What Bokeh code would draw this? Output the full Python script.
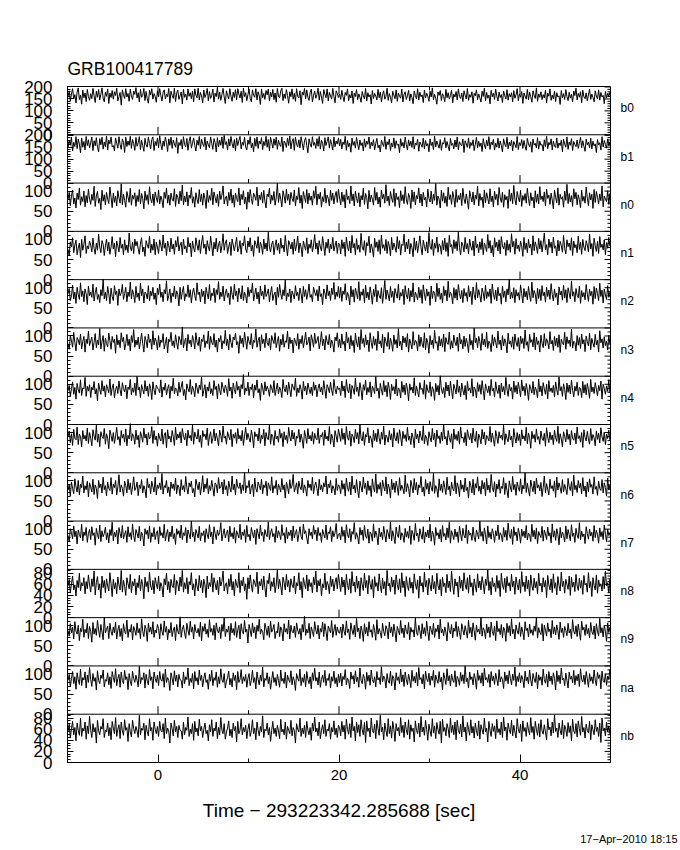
import numpy as np
from bokeh.plotting import figure
from bokeh.models import Range1d, LinearAxis, FixedTicker, Span, Title
from bokeh.embed import file_html
from bokeh.resources import INLINE

title_text = "GRB100417789"
xlabel_text = "Time \u2212 293223342.285688 [sec]"
date_text = "17\u2212Apr\u22122010 18:15"

names = ["b0", "b1", "n0", "n1", "n2", "n3", "n4", "n5", "n6", "n7", "n8", "n9", "na", "nb"]
ymax = [202, 202, 120, 120, 120, 120, 120, 120, 120, 120, 87, 120, 120, 87]
major_ticks = {202: [0, 50, 100, 150, 200], 120: [0, 50, 100], 87: [0, 20, 40, 60, 80]}
minor_step = {202: 10, 120: 10, 87: 5}
x_major = [0, 20, 40]
x_minor = [10, 30]
t_start, t_end = -10.0, 50.0

b0 = [162, 184, 141, 171, 193, 150, 168, 133, 179, 196, 147, 166, 128, 187, 155, 175, 139, 190, 160, 144,
      172, 151, 194, 163, 135, 182, 157, 189, 146, 170, 196, 153, 138, 178, 161, 192, 131, 174, 156, 185,
      149, 180, 164, 195, 142, 159, 177, 124, 188, 167, 152, 193, 158, 173, 140, 191, 163, 148, 183, 169,
      197, 154, 176, 137, 190, 157, 165, 194, 143, 181, 151, 132, 186, 166, 193, 149, 172, 160, 136, 184,
      158, 193, 164, 141, 178, 188, 150, 170, 159, 194, 134, 182, 165, 152, 195, 139, 174, 187, 148, 163,
      179, 129, 190, 157, 171, 145, 192, 161, 176, 151, 183, 138, 192, 166, 155, 195, 146, 177, 163, 133,
      187, 156, 170, 194, 142, 181, 152, 165, 191, 137, 174, 160, 198, 149, 179, 144, 168, 194, 158, 131,
      184, 164, 150, 193, 161, 140, 178, 156, 189, 147, 193, 170, 154, 182, 135, 195, 160, 176, 143, 168,
      192, 151, 138, 188, 165, 157, 193, 146, 180, 163, 127, 192, 155, 173, 148, 185, 167, 191, 141, 178,
      158, 190, 147, 175, 136, 194, 162, 155, 183, 195, 143, 171, 152, 189, 164, 132, 180, 159, 192, 149,
      173, 140, 193, 161, 154, 184, 126, 178, 166, 194, 150, 188, 157, 144, 176, 191, 137, 165, 183, 153,
      168, 195, 145, 181, 158, 131, 189, 170, 155, 192, 142, 177, 162, 149, 194, 160, 134, 184, 172, 156,
      170, 148, 186, 159, 139, 177, 165, 192, 143, 168, 154, 183, 131, 174, 160, 189, 147, 171, 157, 136,
      181, 163, 150, 194, 141, 176, 158, 168, 129, 185, 152, 173, 162, 146, 190, 155, 179, 138, 167, 184,
      149, 160, 195, 144, 172, 157, 133, 182, 166, 151, 188, 140, 175, 161, 153, 191, 137, 169, 180, 148,
      163, 186, 142, 171, 156, 130, 183, 164, 150, 193, 145, 178, 159, 167, 135, 187, 154, 174, 162, 140,
      182, 158, 196, 147, 169, 153, 128, 179, 165, 185, 143, 172, 160, 138, 190, 155, 176, 149, 164, 187,
      134, 170, 158, 181, 146, 192, 161, 152, 175, 139, 184, 166, 150, 194, 144, 168, 157, 180, 132, 173,
      163, 188, 147, 171, 155, 137, 182, 160, 195, 142, 177, 153, 166, 129, 186, 159, 174, 148, 191, 162,
      141, 179, 156, 168, 135, 183, 164, 150, 189, 145, 172, 158, 176, 138, 185, 153, 167, 193, 143, 170,
      157, 181, 131, 175, 162, 149, 190, 146, 178, 159, 136, 184, 165, 152, 196, 140, 171, 157, 180, 147,
      168, 154, 187, 133, 174, 161, 192, 144, 166, 150, 182, 139, 176, 158, 163, 127, 185, 155, 172, 148,
      189, 160, 143, 178, 153, 169, 137, 183, 164, 195, 146, 173, 157, 180, 134, 186, 159, 151, 175, 142,
      167, 191, 148, 170, 156, 138, 184, 162, 150, 188, 145, 177, 158, 165, 130, 181, 154, 173, 161, 179]

b1 = [148, 179, 158, 192, 134, 170, 153, 194, 144, 184, 163, 126, 189, 150, 174, 139, 195, 157, 181, 147,
      168, 193, 136, 177, 156, 190, 149, 131, 186, 160, 192, 142, 172, 152, 197, 138, 180, 164, 193, 151,
      157, 135, 189, 167, 146, 194, 161, 141, 185, 171, 128, 192, 153, 176, 158, 196, 145, 182, 165, 137,
      191, 154, 169, 194, 140, 179, 157, 133, 187, 160, 150, 193, 166, 143, 182, 193, 136, 174, 157, 189,
      148, 198, 162, 139, 176, 154, 192, 170, 132, 185, 158, 192, 145, 180, 164, 150, 190, 124, 170, 157,
      182, 142, 194, 161, 151, 187, 137, 174, 194, 146, 167, 189, 157, 134, 179, 158, 195, 143, 184, 164,
      153, 192, 139, 176, 160, 148, 193, 166, 141, 186, 169, 130, 190, 151, 179, 158, 193, 145, 199, 161,
      173, 138, 185, 155, 195, 165, 147, 182, 135, 189, 157, 177, 195, 143, 170, 158, 192, 150, 139, 180,
      162, 194, 148, 167, 131, 187, 154, 193, 145, 176, 163, 190, 140, 174, 157, 196, 150, 182, 135, 191,
      170, 146, 185, 158, 192, 141, 179, 161, 153, 193, 132, 176, 167, 149, 189, 157, 197, 143, 173, 186,
      137, 192, 161, 152, 181, 147, 194, 166, 139, 177, 190, 157, 127, 185, 164, 150, 194, 158, 170, 145,
      186, 154, 195, 142, 179, 167, 134, 190, 157, 174, 193, 146, 182, 162, 138, 193, 152, 176, 163, 189,
      155, 183, 143, 172, 161, 196, 137, 178, 152, 167, 129, 188, 158, 174, 146, 191, 163, 140, 180, 157,
      169, 134, 185, 150, 176, 162, 193, 144, 171, 155, 182, 139, 166, 187, 148, 159, 130, 179, 164, 153,
      195, 141, 173, 160, 184, 136, 168, 151, 189, 145, 177, 158, 163, 127, 186, 154, 170, 147, 192, 161,
      138, 181, 156, 175, 149, 194, 142, 167, 159, 183, 133, 172, 162, 150, 188, 144, 178, 155, 165, 131,
      185, 157, 171, 140, 196, 152, 176, 160, 146, 182, 137, 169, 163, 190, 148, 174, 154, 135, 187, 158,
      166, 143, 180, 151, 193, 139, 173, 161, 156, 184, 128, 177, 164, 149, 189, 145, 170, 157, 181, 136,
      162, 191, 147, 175, 153, 168, 132, 186, 159, 144, 179, 155, 194, 141, 172, 160, 183, 138, 167, 150,
      188, 146, 176, 158, 130, 185, 163, 152, 192, 143, 171, 156, 180, 135, 174, 161, 148, 195, 140, 169,
      157, 182, 145, 178, 154, 137, 187, 164, 151, 173, 129, 184, 159, 166, 147, 190, 142, 175, 158, 162,
      134, 181, 153, 196, 144, 170, 160, 185, 139, 176, 155, 149, 189, 146, 168, 157, 179, 131, 183, 163,
      150, 193, 141, 172, 158, 186, 136, 174, 161, 152, 180, 145, 167, 191, 148, 177, 154, 133, 184, 160,
      171, 147, 188, 143, 175, 156, 164, 128, 182, 159, 169, 138, 194, 151, 178, 162, 146, 185, 155, 173]

n0 = [78, 97, 64, 88, 103, 68, 83, 58, 95, 79, 108, 65, 86, 74, 100, 61, 89, 71, 105, 80,
      67, 92, 77, 112, 62, 88, 99, 70, 82, 54, 102, 75, 91, 66, 97, 80, 69, 110, 85, 59,
      95, 72, 88, 63, 101, 83, 70, 118, 66, 92, 77, 60, 99, 85, 72, 107, 65, 90, 80, 96,
      62, 89, 74, 104, 68, 94, 82, 56, 100, 77, 91, 67, 111, 80, 71, 93, 64, 98, 84, 72,
      103, 68, 88, 78, 59, 97, 82, 108, 70, 90, 65, 95, 80, 75, 106, 62, 92, 85, 68, 100,
      76, 115, 66, 88, 73, 98, 63, 90, 82, 109, 70, 86, 60, 96, 80, 69, 104, 74, 93, 65,
      95, 82, 57, 102, 72, 89, 77, 107, 66, 98, 84, 71, 92, 62, 100, 79, 90, 113, 68, 83,
      88, 63, 97, 77, 105, 70, 90, 60, 95, 82, 74, 108, 65, 92, 79, 101, 68, 85, 55, 98,
      72, 104, 82, 67, 95, 88, 77, 110, 63, 90, 79, 97, 70, 102, 75, 58, 93, 86, 107, 68,
      90, 77, 99, 65, 83, 120, 72, 95, 80, 61, 101, 88, 70, 105, 77, 93, 66, 97, 82, 74,
      103, 63, 88, 79, 109, 70, 90, 57, 99, 85, 72, 104, 68, 95, 77, 88, 65, 101, 82, 112,
      66, 93, 80, 97, 60, 86, 74, 107, 70, 90, 82, 63, 102, 77, 95, 68, 88, 99, 72, 105,
      83, 66, 98, 74, 91, 58, 104, 79, 88, 69, 113, 76, 93, 63, 100, 82, 71, 96, 61, 89,
      78, 107, 67, 94, 84, 56, 102, 73, 90, 80, 65, 109, 77, 97, 68, 85, 60, 103, 81, 92,
      70, 116, 75, 88, 64, 99, 83, 72, 106, 62, 95, 79, 86, 59, 101, 76, 91, 69, 111, 80,
      67, 94, 84, 57, 103, 74, 98, 66, 89, 81, 108, 71, 93, 63, 97, 78, 85, 61, 105, 82,
      73, 100, 68, 92, 77, 119, 65, 88, 80, 58, 102, 75, 96, 70, 87, 62, 110, 79, 91, 67,
      99, 84, 60, 104, 72, 89, 78, 95, 64, 107, 81, 69, 93, 76, 55, 101, 86, 73, 98, 66,
      90, 80, 112, 63, 94, 77, 85, 59, 103, 71, 96, 82, 68, 106, 74, 88, 61, 100, 79, 92,
      65, 109, 83, 72, 97, 60, 91, 78, 87, 57, 104, 75, 95, 69, 114, 80, 66, 99, 84, 73,
      102, 62, 89, 77, 94, 70, 107, 81, 64, 96, 76, 85, 58, 101, 72, 93, 68, 111, 79, 88,
      74, 98, 63, 105, 82, 90, 67, 95, 78, 56, 103, 84, 71, 108, 65, 92, 80, 86, 60, 100,
      77, 117, 69, 94, 73, 89, 62, 106, 81, 97, 66, 91, 79, 59, 102, 75, 87, 70, 110, 83,
      64, 96, 78, 92, 57, 104, 72, 99, 85, 68, 93, 76, 113, 61, 88, 80, 74, 101, 67, 95]

n1 = [75, 60, 94, 81, 104, 67, 86, 98, 62, 78, 91, 55, 100, 73, 88, 109, 65, 84, 76, 96,
      86, 69, 103, 78, 63, 91, 73, 113, 81, 67, 97, 88, 60, 84, 101, 71, 93, 63, 81, 107,
      76, 91, 57, 96, 84, 69, 105, 78, 88, 62, 99, 73, 86, 67, 116, 81, 71, 93, 65, 101,
      84, 95, 76, 63, 91, 104, 69, 81, 58, 97, 86, 78, 108, 67, 88, 73, 101, 62, 93, 81,
      65, 99, 86, 71, 111, 78, 91, 60, 96, 84, 69, 103, 76, 88, 63, 97, 81, 107, 71, 86,
      93, 62, 101, 76, 84, 67, 105, 81, 91, 57, 96, 78, 69, 104, 86, 73, 99, 65, 91, 110,
      78, 88, 63, 97, 81, 71, 108, 84, 59, 93, 76, 103, 69, 86, 96, 67, 84, 114, 73, 91,
      99, 65, 81, 93, 60, 101, 86, 71, 88, 105, 69, 78, 97, 63, 91, 84, 109, 76, 67, 96,
      81, 104, 71, 86, 58, 97, 88, 78, 107, 67, 93, 84, 63, 101, 76, 91, 71, 118, 81, 69,
      88, 96, 62, 84, 99, 73, 91, 65, 103, 78, 86, 69, 110, 81, 59, 97, 88, 76, 93, 63,
      101, 71, 86, 108, 67, 91, 81, 57, 96, 84, 73, 104, 65, 88, 78, 99, 69, 86, 112, 76,
      91, 63, 97, 81, 71, 107, 84, 60, 93, 78, 101, 67, 88, 76, 105, 71, 84, 96, 65, 91,
      88, 64, 99, 77, 93, 58, 106, 82, 71, 96, 66, 110, 79, 90, 62, 102, 75, 86, 68, 115,
      81, 73, 97, 60, 92, 84, 108, 67, 89, 76, 56, 103, 80, 94, 70, 99, 63, 111, 78, 87,
      72, 100, 65, 95, 83, 59, 105, 74, 91, 81, 68, 107, 77, 97, 61, 88, 85, 113, 69, 93,
      76, 101, 64, 90, 80, 57, 104, 73, 96, 67, 86, 109, 79, 62, 98, 83, 71, 94, 66, 117,
      82, 75, 100, 60, 91, 78, 106, 68, 89, 84, 63, 97, 74, 103, 70, 92, 58, 110, 81, 87,
      65, 99, 77, 95, 72, 119, 80, 61, 93, 86, 69, 105, 76, 90, 64, 101, 83, 73, 96, 59,
      108, 79, 88, 67, 94, 75, 102, 62, 91, 82, 70, 112, 78, 97, 66, 85, 57, 104, 80, 93,
      71, 99, 64, 107, 84, 76, 92, 60, 98, 73, 89, 68, 114, 81, 95, 63, 102, 77, 86, 70,
      96, 83, 58, 105, 75, 91, 67, 100, 79, 88, 61, 109, 72, 94, 82, 65, 103, 76, 97, 69,
      90, 116, 74, 87, 62, 101, 80, 93, 66, 106, 78, 84, 59, 98, 71, 95, 85, 68, 110, 77,
      64, 99, 82, 91, 73, 104, 60, 96, 79, 87, 67, 108, 75, 93, 63, 100, 81, 72, 97, 86,
      69, 113, 76, 90, 58, 103, 84, 70, 95, 65, 107, 80, 88, 74, 99, 62, 92, 78, 105, 83]

n2 = [85, 98, 68, 80, 106, 72, 89, 61, 101, 83, 71, 112, 78, 92, 65, 97, 85, 58, 104, 80,
      89, 76, 109, 67, 87, 101, 71, 83, 63, 95, 80, 121, 72, 89, 68, 103, 85, 60, 99, 78,
      68, 105, 83, 92, 56, 97, 80, 87, 108, 71, 85, 101, 65, 89, 78, 114, 72, 95, 83, 63,
      103, 76, 87, 68, 111, 80, 97, 62, 89, 85, 72, 105, 67, 92, 80, 101, 71, 87, 58, 99,
      83, 109, 76, 89, 65, 95, 85, 117, 68, 80, 97, 63, 87, 78, 104, 72, 92, 83, 55, 101,
      71, 89, 103, 67, 85, 78, 107, 76, 95, 62, 87, 99, 80, 68, 112, 83, 89, 65, 97, 78,
      92, 60, 101, 85, 72, 108, 68, 87, 80, 99, 63, 95, 83, 115, 71, 89, 78, 104, 67, 85,
      97, 76, 87, 58, 103, 83, 71, 109, 80, 92, 65, 99, 85, 72, 105, 68, 89, 80, 62, 101,
      78, 95, 87, 111, 67, 83, 99, 72, 89, 60, 104, 80, 92, 71, 107, 78, 85, 97, 65, 87,
      103, 68, 83, 89, 57, 101, 76, 108, 85, 71, 95, 80, 119, 67, 87, 78, 97, 63, 92, 83,
      72, 105, 80, 89, 68, 99, 85, 62, 103, 78, 95, 71, 87, 109, 76, 83, 65, 101, 89, 80,
      95, 67, 104, 78, 85, 58, 97, 87, 72, 107, 80, 92, 68, 99, 83, 113, 71, 89, 78, 103,
      74, 101, 66, 92, 83, 110, 69, 88, 79, 57, 104, 77, 95, 64, 99, 86, 72, 115, 68, 90,
      81, 97, 62, 106, 75, 89, 70, 102, 84, 59, 96, 78, 108, 65, 93, 80, 73, 100, 61, 87,
      118, 71, 94, 82, 67, 103, 76, 91, 63, 98, 85, 74, 109, 69, 88, 79, 96, 58, 105, 83,
      72, 99, 66, 93, 77, 112, 64, 89, 81, 70, 101, 75, 95, 61, 107, 84, 68, 97, 79, 90,
      56, 104, 73, 92, 86, 65, 111, 78, 99, 71, 87, 62, 103, 80, 94, 67, 116, 76, 89, 82,
      60, 100, 74, 96, 69, 108, 85, 72, 93, 63, 98, 79, 88, 66, 105, 77, 91, 58, 102, 83,
      70, 113, 75, 95, 81, 64, 99, 87, 68, 106, 73, 90, 78, 97, 61, 109, 84, 71, 94, 67,
      101, 80, 86, 59, 104, 76, 92, 65, 97, 82, 120, 72, 89, 74, 100, 63, 95, 79, 88, 69,
      107, 85, 62, 98, 77, 91, 70, 103, 81, 66, 114, 75, 93, 84, 60, 99, 73, 96, 68, 105,
      80, 89, 64, 101, 78, 94, 71, 110, 83, 67, 97, 76, 87, 57, 102, 82, 92, 69, 106, 74,
      95, 63, 100, 86, 72, 117, 79, 90, 65, 98, 81, 75, 104, 61, 93, 77, 88, 70, 108, 84,
      66, 96, 80, 91, 59, 103, 73, 99, 85, 68, 111, 78, 94, 62, 97, 82, 71, 105, 76, 89]

n3 = [81, 67, 101, 88, 72, 109, 84, 63, 96, 90, 78, 105, 68, 86, 99, 60, 92, 81, 112, 76,
      88, 97, 65, 84, 106, 71, 90, 78, 119, 68, 86, 101, 62, 95, 81, 73, 107, 88, 67, 99,
      84, 92, 57, 103, 78, 90, 71, 108, 86, 97, 65, 81, 104, 76, 92, 63, 101, 84, 116, 72,
      90, 78, 97, 68, 86, 107, 81, 60, 99, 88, 71, 105, 84, 92, 67, 113, 78, 95, 86, 65,
      101, 72, 90, 84, 106, 68, 81, 97, 58, 92, 86, 109, 76, 88, 71, 103, 84, 67, 99, 90,
      78, 122, 71, 86, 95, 63, 104, 81, 90, 73, 101, 88, 68, 108, 84, 76, 97, 62, 92, 86,
      103, 71, 88, 81, 112, 67, 99, 84, 78, 106, 72, 90, 60, 95, 86, 101, 68, 88, 81, 114,
      76, 92, 65, 104, 84, 71, 97, 90, 107, 78, 86, 57, 101, 81, 95, 72, 109, 88, 67, 99,
      86, 78, 106, 68, 90, 84, 117, 72, 88, 97, 63, 103, 81, 92, 71, 107, 84, 76, 95, 65,
      101, 90, 81, 108, 71, 86, 99, 62, 92, 78, 104, 72, 88, 84, 112, 68, 97, 81, 90, 58,
      95, 86, 76, 106, 67, 92, 81, 101, 71, 88, 109, 78, 84, 97, 63, 103, 90, 72, 107, 81,
      88, 99, 68, 84, 111, 76, 92, 65, 101, 86, 78, 104, 71, 90, 81, 60, 97, 88, 108, 72,
      92, 70, 105, 79, 87, 63, 110, 83, 96, 68, 101, 76, 89, 59, 107, 85, 73, 98, 66, 116,
      81, 94, 72, 103, 78, 90, 61, 108, 84, 69, 99, 77, 93, 64, 112, 80, 88, 71, 104, 58,
      97, 86, 74, 109, 67, 95, 82, 62, 102, 79, 91, 70, 118, 76, 87, 65, 100, 83, 96, 73,
      106, 60, 92, 81, 68, 111, 77, 89, 85, 63, 103, 74, 97, 80, 71, 108, 66, 94, 83, 57,
      101, 78, 90, 69, 114, 82, 86, 64, 99, 75, 93, 72, 105, 61, 96, 84, 79, 110, 67, 88,
      70, 102, 85, 76, 97, 62, 107, 80, 91, 68, 100, 74, 94, 81, 59, 104, 77, 89, 66, 120,
      83, 95, 71, 99, 86, 64, 106, 78, 92, 73, 109, 69, 87, 82, 61, 103, 76, 97, 84, 70,
      112, 79, 90, 65, 101, 75, 93, 83, 58, 107, 80, 88, 72, 98, 67, 105, 85, 74, 96, 63,
      100, 81, 94, 69, 115, 77, 86, 62, 104, 84, 91, 73, 108, 66, 97, 79, 88, 60, 102, 82,
      71, 106, 75, 93, 85, 68, 111, 80, 89, 64, 99, 76, 95, 72, 103, 59, 92, 83, 78, 109,
      67, 98, 81, 90, 74, 117, 70, 87, 84, 63, 101, 77, 96, 69, 105, 80, 91, 61, 100, 86,
      75, 107, 66, 94, 82, 72, 104, 78, 89, 60, 113, 83, 93, 70, 98, 76, 87, 65, 102, 79]

n4 = [84, 97, 69, 89, 106, 75, 92, 63, 102, 86, 78, 111, 72, 91, 88, 117, 70, 95, 83, 99,
      67, 93, 86, 107, 76, 89, 59, 103, 87, 75, 109, 83, 96, 69, 99, 89, 79, 113, 72, 91,
      101, 66, 87, 95, 77, 108, 86, 71, 104, 89, 81, 98, 64, 93, 87, 112, 74, 91, 80, 103,
      72, 120, 86, 93, 67, 99, 87, 76, 109, 83, 95, 70, 101, 89, 62, 106, 86, 74, 98, 91,
      87, 79, 111, 68, 93, 85, 103, 74, 89, 99, 65, 95, 83, 115, 76, 91, 87, 71, 105, 80,
      93, 107, 72, 87, 61, 101, 89, 81, 112, 75, 95, 86, 69, 103, 91, 77, 98, 87, 118, 70,
      85, 99, 66, 93, 83, 106, 76, 89, 72, 109, 87, 95, 64, 101, 86, 74, 105, 91, 79, 98,
      89, 70, 114, 83, 93, 65, 103, 87, 76, 107, 85, 95, 69, 99, 89, 124, 74, 91, 83, 105,
      72, 93, 87, 101, 66, 98, 85, 111, 79, 89, 60, 103, 91, 74, 106, 83, 95, 87, 70, 99,
      91, 79, 109, 72, 87, 103, 76, 93, 85, 67, 112, 89, 81, 98, 74, 105, 87, 69, 101, 93,
      85, 115, 70, 91, 79, 99, 87, 63, 107, 83, 95, 74, 103, 89, 77, 93, 72, 106, 85, 98,
      69, 89, 101, 81, 93, 74, 109, 87, 65, 99, 91, 79, 105, 85, 72, 112, 89, 76, 95, 87,
      91, 72, 108, 83, 96, 67, 112, 86, 79, 101, 64, 97, 89, 75, 115, 82, 93, 70, 104, 87,
      61, 99, 85, 110, 74, 92, 80, 106, 68, 95, 88, 77, 119, 83, 90, 65, 102, 86, 73, 109,
      81, 97, 69, 105, 89, 62, 100, 84, 94, 76, 113, 71, 91, 87, 66, 107, 80, 98, 74, 103,
      88, 59, 101, 85, 93, 78, 116, 72, 96, 82, 68, 104, 87, 90, 75, 110, 63, 99, 84, 79,
      106, 70, 94, 86, 60, 102, 81, 97, 73, 121, 88, 77, 92, 67, 105, 83, 98, 71, 108, 85,
      64, 100, 89, 76, 111, 80, 95, 69, 103, 86, 73, 97, 62, 107, 84, 91, 78, 114, 70, 93,
      87, 66, 104, 82, 99, 75, 109, 85, 61, 101, 89, 79, 96, 72, 112, 83, 90, 68, 106, 86,
      77, 98, 65, 103, 81, 94, 74, 117, 88, 70, 100, 84, 92, 63, 108, 80, 97, 76, 105, 87,
      69, 111, 83, 95, 72, 102, 86, 60, 99, 89, 78, 107, 74, 93, 85, 66, 113, 81, 96, 71,
      104, 88, 75, 100, 64, 109, 82, 91, 79, 97, 68, 106, 86, 73, 118, 84, 94, 70, 101, 87,
      62, 103, 80, 98, 76, 110, 85, 69, 95, 83, 105, 72, 92, 89, 67, 107, 78, 99, 74, 102,
      86, 65, 112, 81, 93, 77, 104, 88, 71, 97, 84, 108, 63, 100, 90, 75, 96, 82, 111, 79]

n5 = [89, 104, 75, 97, 68, 108, 86, 82, 114, 70, 96, 90, 64, 105, 84, 93, 79, 111, 73, 100,
      86, 67, 107, 91, 81, 118, 76, 96, 65, 102, 90, 85, 110, 71, 97, 86, 60, 106, 93, 78,
      100, 73, 91, 113, 82, 90, 68, 105, 86, 96, 76, 109, 67, 93, 84, 122, 79, 97, 90, 71,
      106, 82, 93, 63, 102, 91, 76, 111, 86, 96, 69, 100, 84, 90, 115, 73, 105, 82, 91, 66,
      98, 86, 79, 109, 71, 93, 100, 62, 107, 84, 91, 76, 105, 90, 68, 113, 82, 96, 86, 102,
      74, 110, 91, 82, 98, 67, 106, 86, 93, 79, 119, 71, 101, 90, 84, 108, 76, 93, 63, 105,
      90, 96, 82, 111, 68, 91, 102, 73, 86, 109, 79, 98, 84, 67, 106, 93, 76, 116, 86, 91,
      71, 102, 90, 82, 108, 65, 96, 86, 100, 73, 110, 84, 93, 79, 105, 68, 91, 113, 82, 98,
      86, 76, 106, 91, 62, 102, 90, 96, 79, 111, 73, 93, 84, 108, 67, 100, 86, 82, 120, 71,
      96, 90, 68, 105, 84, 91, 76, 109, 86, 98, 65, 102, 82, 93, 73, 113, 90, 79, 106, 84,
      100, 67, 91, 86, 108, 76, 96, 82, 61, 105, 90, 73, 110, 84, 93, 79, 102, 71, 98, 86,
      82, 111, 73, 93, 90, 100, 68, 106, 84, 91, 79, 115, 71, 96, 86, 64, 105, 91, 76, 109,
      94, 78, 110, 83, 99, 70, 115, 88, 81, 104, 66, 96, 90, 75, 108, 84, 100, 72, 119, 86,
      79, 102, 68, 95, 89, 112, 74, 92, 85, 63, 106, 80, 98, 77, 109, 87, 71, 101, 83, 116,
      69, 94, 88, 76, 105, 82, 97, 64, 111, 86, 79, 100, 73, 107, 90, 67, 103, 85, 95, 78,
      113, 81, 91, 70, 99, 87, 62, 108, 84, 96, 74, 104, 89, 80, 117, 72, 93, 86, 68, 102,
      88, 77, 110, 82, 98, 65, 106, 85, 92, 73, 101, 79, 120, 84, 90, 69, 105, 87, 76, 97,
      60, 109, 83, 95, 80, 103, 71, 114, 86, 89, 75, 100, 67, 107, 91, 82, 98, 74, 111, 85,
      78, 104, 63, 96, 88, 72, 108, 84, 101, 69, 93, 87, 79, 115, 76, 99, 83, 66, 105, 90,
      73, 102, 86, 94, 81, 118, 70, 97, 85, 77, 106, 82, 91, 64, 110, 88, 74, 100, 80, 96,
      68, 107, 84, 92, 79, 113, 72, 99, 87, 61, 103, 85, 95, 76, 109, 83, 90, 71, 104, 86,
      80, 98, 66, 112, 89, 75, 101, 82, 94, 70, 106, 87, 78, 116, 73, 97, 84, 65, 102, 90,
      77, 108, 83, 96, 69, 105, 86, 81, 99, 72, 114, 85, 92, 76, 100, 63, 107, 88, 79, 103,
      84, 71, 110, 80, 95, 87, 67, 104, 83, 98, 74, 112, 89, 78, 101, 70, 96, 85, 106, 81]

n6 = [77, 90, 62, 97, 81, 68, 105, 85, 72, 101, 65, 92, 83, 112, 70, 88, 78, 99, 60, 95,
      85, 72, 104, 66, 90, 81, 56, 101, 83, 92, 70, 109, 78, 88, 63, 97, 81, 76, 108, 67,
      92, 83, 101, 65, 85, 115, 72, 90, 81, 62, 99, 88, 70, 104, 78, 95, 66, 85, 110, 76,
      83, 97, 63, 90, 81, 103, 70, 88, 78, 58, 106, 83, 92, 68, 99, 85, 72, 109, 65, 90,
      81, 95, 78, 118, 67, 88, 83, 101, 70, 85, 61, 97, 81, 92, 76, 107, 68, 90, 83, 63,
      103, 78, 88, 72, 111, 83, 67, 95, 85, 99, 70, 81, 60, 104, 90, 78, 97, 65, 85, 113,
      72, 92, 81, 106, 68, 88, 76, 101, 83, 62, 95, 90, 70, 108, 81, 85, 97, 67, 103, 78,
      88, 63, 99, 83, 72, 112, 78, 92, 65, 104, 85, 81, 95, 68, 90, 76, 121, 70, 88, 83,
      101, 67, 85, 92, 61, 107, 81, 72, 97, 88, 78, 104, 68, 90, 83, 99, 63, 95, 85, 76,
      110, 70, 88, 81, 101, 65, 92, 83, 72, 106, 78, 90, 57, 97, 85, 68, 103, 81, 88, 116,
      72, 83, 95, 67, 99, 85, 78, 107, 70, 90, 81, 62, 101, 83, 92, 76, 109, 68, 88, 97,
      81, 63, 104, 78, 90, 72, 95, 85, 112, 67, 92, 83, 101, 70, 88, 81, 65, 106, 76, 90,
      86, 68, 101, 79, 93, 62, 107, 83, 74, 97, 65, 112, 80, 89, 70, 103, 77, 58, 99, 85,
      72, 109, 81, 94, 66, 100, 76, 88, 61, 105, 83, 73, 117, 69, 91, 79, 96, 63, 102, 86,
      75, 110, 67, 92, 82, 57, 104, 78, 95, 71, 99, 84, 64, 108, 76, 89, 80, 68, 114, 73,
      93, 81, 60, 101, 87, 70, 106, 77, 96, 65, 90, 83, 111, 72, 85, 62, 103, 79, 94, 67,
      98, 84, 74, 119, 69, 88, 80, 59, 105, 76, 92, 71, 100, 83, 66, 109, 78, 87, 63, 97,
      81, 75, 113, 68, 95, 85, 61, 102, 79, 90, 72, 107, 76, 84, 57, 99, 88, 70, 104, 65,
      93, 82, 110, 74, 87, 67, 101, 80, 96, 63, 106, 77, 89, 71, 116, 84, 73, 98, 60, 92,
      79, 103, 69, 86, 81, 108, 66, 95, 76, 58, 100, 85, 72, 111, 78, 91, 64, 97, 83, 74,
      105, 68, 89, 80, 120, 71, 94, 77, 62, 102, 86, 73, 99, 67, 107, 82, 90, 75, 96, 61,
      84, 112, 70, 93, 79, 65, 104, 81, 88, 74, 100, 59, 109, 77, 95, 83, 69, 103, 72, 91,
      80, 66, 106, 85, 76, 98, 63, 114, 78, 89, 71, 101, 82, 94, 68, 108, 75, 87, 60, 97,
      73, 105, 84, 91, 67, 110, 79, 86, 64, 99, 81, 76, 103, 70, 95, 83, 62, 107, 77, 90]

n7 = [84, 69, 101, 91, 76, 108, 81, 95, 63, 98, 87, 78, 112, 71, 93, 84, 104, 67, 89, 99,
      74, 106, 84, 91, 60, 102, 87, 76, 110, 69, 96, 81, 89, 105, 74, 91, 66, 99, 84, 117,
      71, 93, 81, 97, 63, 104, 89, 78, 109, 76, 87, 96, 67, 106, 81, 91, 74, 113, 84, 69,
      99, 89, 78, 107, 71, 93, 84, 58, 101, 87, 97, 76, 108, 67, 91, 81, 104, 74, 89, 96,
      63, 106, 84, 91, 78, 112, 71, 87, 99, 69, 93, 81, 108, 76, 89, 62, 101, 87, 96, 78,
      110, 74, 91, 84, 104, 66, 98, 87, 76, 120, 81, 93, 69, 99, 89, 78, 107, 71, 91, 84,
      96, 67, 101, 87, 76, 111, 81, 93, 63, 106, 89, 74, 98, 84, 91, 116, 71, 87, 101, 78,
      89, 98, 69, 107, 81, 91, 76, 104, 65, 96, 87, 78, 112, 74, 93, 84, 99, 67, 109, 81,
      87, 71, 104, 91, 78, 98, 62, 101, 89, 76, 110, 84, 93, 69, 99, 87, 81, 118, 74, 91,
      101, 81, 89, 67, 107, 78, 96, 87, 74, 111, 84, 91, 65, 104, 76, 93, 84, 98, 71, 108,
      78, 91, 99, 69, 87, 106, 81, 74, 112, 89, 96, 78, 63, 101, 84, 93, 76, 109, 87, 98,
      71, 104, 84, 91, 67, 99, 87, 78, 110, 74, 93, 89, 106, 69, 96, 81, 91, 114, 76, 87,
      90, 73, 106, 82, 97, 66, 111, 86, 78, 101, 69, 94, 87, 116, 75, 91, 80, 63, 104, 85,
      98, 72, 109, 83, 77, 100, 65, 93, 88, 70, 113, 79, 95, 84, 61, 103, 81, 92, 74, 107,
      86, 68, 99, 89, 76, 118, 71, 96, 82, 64, 105, 87, 79, 110, 73, 91, 85, 67, 102, 80,
      94, 77, 108, 62, 97, 88, 72, 114, 83, 90, 69, 101, 86, 75, 106, 66, 93, 81, 98, 78,
      112, 70, 95, 87, 60, 104, 84, 91, 76, 99, 68, 109, 82, 89, 73, 103, 79, 117, 65, 96,
      86, 74, 100, 81, 93, 67, 107, 88, 71, 102, 84, 78, 111, 64, 97, 85, 90, 72, 105, 80,
      69, 98, 87, 76, 120, 82, 94, 70, 103, 86, 63, 108, 79, 92, 75, 101, 89, 67, 96, 83,
      110, 74, 91, 85, 68, 104, 80, 97, 72, 115, 87, 77, 99, 62, 106, 84, 93, 71, 102, 88,
      65, 100, 82, 95, 78, 109, 73, 90, 86, 69, 112, 81, 97, 75, 103, 64, 94, 85, 79, 107,
      70, 98, 88, 74, 105, 83, 91, 66, 113, 80, 96, 72, 101, 87, 61, 104, 78, 93, 84, 68,
      108, 76, 99, 86, 71, 111, 82, 90, 67, 102, 85, 77, 116, 73, 95, 81, 88, 64, 106, 89,
      75, 100, 83, 92, 70, 109, 79, 97, 86, 65, 103, 81, 94, 74, 110, 87, 69, 99, 84, 91]

n8 = [57, 69, 45, 61, 75, 50, 59, 39, 67, 54, 80, 48, 63, 57, 72, 43, 65, 52, 77, 59,
      46, 70, 56, 84, 41, 63, 74, 50, 61, 35, 75, 54, 67, 45, 70, 57, 48, 81, 61, 38,
      69, 52, 63, 43, 73, 59, 50, 85, 46, 67, 56, 40, 72, 61, 52, 78, 45, 65, 57, 70,
      41, 63, 54, 76, 48, 69, 59, 34, 73, 56, 65, 46, 82, 57, 50, 67, 43, 72, 61, 52,
      75, 48, 63, 56, 37, 70, 59, 80, 50, 65, 45, 69, 57, 54, 78, 41, 67, 61, 48, 73,
      56, 85, 46, 63, 52, 72, 43, 65, 59, 81, 50, 61, 39, 70, 57, 48, 76, 54, 67, 45,
      69, 59, 36, 75, 52, 63, 56, 80, 46, 72, 61, 50, 67, 41, 73, 57, 65, 84, 48, 59,
      63, 43, 70, 56, 78, 50, 65, 39, 69, 59, 54, 81, 45, 67, 57, 73, 48, 61, 33, 72,
      52, 77, 59, 46, 69, 63, 56, 82, 43, 65, 57, 70, 50, 75, 54, 37, 67, 61, 80, 48,
      65, 56, 72, 45, 59, 86, 52, 69, 57, 41, 73, 63, 50, 78, 56, 67, 46, 70, 59, 54,
      75, 43, 63, 57, 81, 50, 65, 36, 72, 61, 52, 77, 48, 69, 56, 63, 45, 73, 59, 84,
      46, 67, 57, 70, 39, 61, 54, 80, 50, 65, 59, 43, 75, 56, 69, 48, 63, 72, 52, 78,
      62, 47, 73, 55, 68, 41, 78, 58, 50, 70, 44, 83, 57, 64, 46, 75, 53, 66, 39, 72,
      59, 49, 80, 54, 67, 43, 76, 61, 51, 69, 36, 74, 56, 63, 48, 79, 58, 45, 71, 52,
      65, 40, 85, 57, 62, 47, 73, 55, 68, 42, 77, 60, 50, 70, 45, 81, 54, 66, 38, 74,
      58, 49, 72, 53, 64, 44, 79, 61, 51, 68, 35, 75, 57, 63, 46, 82, 55, 67, 41, 71,
      60, 48, 76, 52, 65, 43, 80, 58, 50, 69, 39, 73, 56, 62, 45, 78, 54, 66, 47, 84,
      59, 42, 70, 57, 64, 37, 75, 53, 68, 48, 81, 60, 51, 72, 44, 77, 55, 63, 40, 70,
      57, 46, 79, 54, 66, 50, 74, 61, 43, 69, 58, 86, 49, 65, 41, 72, 56, 62, 47, 76,
      53, 67, 38, 80, 59, 51, 71, 45, 74, 57, 63, 48, 78, 55, 66, 42, 73, 60, 50, 69,
      44, 83, 56, 64, 47, 75, 52, 68, 39, 77, 58, 49, 71, 54, 65, 43, 80, 57, 62, 46,
      72, 55, 67, 36, 76, 59, 50, 70, 45, 79, 53, 63, 41, 74, 58, 48, 82, 56, 66, 44,
      69, 60, 51, 75, 40, 73, 55, 64, 47, 78, 57, 49, 71, 53, 67, 42, 76, 59, 62, 46,
      81, 54, 65, 38, 72, 58, 50, 77, 44, 68, 56, 61, 48, 74, 52, 84, 57, 63, 45, 70]

n9 = [88, 74, 105, 82, 96, 67, 110, 86, 79, 101, 63, 93, 85, 116, 71, 91, 82, 106, 68, 98,
      86, 59, 108, 79, 93, 76, 113, 89, 71, 103, 84, 65, 121, 82, 91, 99, 68, 106, 86, 76,
      97, 82, 109, 67, 89, 101, 73, 93, 62, 105, 86, 79, 114, 71, 91, 84, 103, 65, 98, 89,
      76, 107, 82, 93, 68, 117, 86, 73, 101, 91, 61, 106, 84, 97, 79, 110, 71, 89, 82, 103,
      93, 67, 105, 86, 76, 112, 84, 98, 65, 91, 82, 108, 73, 89, 97, 63, 103, 86, 79, 122,
      71, 91, 101, 82, 68, 106, 89, 76, 111, 84, 97, 67, 103, 86, 82, 93, 73, 109, 62, 98,
      86, 105, 79, 91, 71, 115, 84, 93, 76, 101, 65, 107, 89, 82, 97, 68, 103, 86, 119, 73,
      91, 84, 99, 63, 106, 82, 93, 76, 110, 71, 89, 101, 67, 105, 86, 79, 113, 84, 91, 57,
      103, 89, 73, 107, 82, 97, 68, 101, 86, 116, 79, 91, 84, 65, 106, 93, 76, 99, 71, 111,
      84, 91, 103, 68, 86, 82, 109, 73, 97, 89, 62, 105, 84, 93, 79, 114, 67, 101, 86, 82,
      99, 71, 107, 89, 79, 93, 65, 103, 84, 123, 76, 91, 82, 106, 68, 97, 86, 73, 110, 89,
      79, 101, 67, 93, 84, 109, 73, 105, 86, 63, 99, 91, 82, 113, 71, 89, 103, 76, 97, 84,
      81, 97, 70, 104, 86, 76, 112, 83, 92, 66, 107, 89, 78, 101, 72, 118, 85, 94, 68, 99,
      87, 61, 105, 80, 96, 74, 110, 84, 90, 71, 103, 88, 64, 115, 79, 93, 83, 69, 106, 86,
      75, 100, 91, 67, 109, 82, 97, 73, 104, 85, 60, 98, 88, 77, 113, 81, 94, 70, 102, 86,
      79, 108, 65, 96, 84, 90, 72, 119, 83, 76, 101, 87, 68, 105, 80, 95, 74, 111, 86, 63,
      99, 89, 78, 106, 71, 93, 85, 102, 67, 116, 82, 91, 75, 97, 84, 62, 108, 88, 80, 103,
      70, 94, 86, 110, 73, 98, 83, 66, 105, 90, 77, 100, 85, 69, 114, 81, 96, 72, 107, 87,
      64, 101, 84, 92, 79, 121, 74, 95, 88, 68, 104, 82, 97, 71, 109, 86, 76, 99, 63, 112,
      85, 93, 78, 103, 70, 96, 89, 61, 106, 83, 100, 75, 117, 80, 91, 67, 102, 87, 79, 108,
      73, 97, 84, 65, 110, 88, 94, 72, 104, 81, 90, 76, 99, 86, 120, 69, 95, 83, 78, 105,
      62, 101, 89, 74, 107, 85, 92, 70, 113, 80, 97, 77, 102, 87, 66, 109, 83, 94, 71, 98,
      88, 75, 106, 82, 91, 68, 115, 86, 79, 100, 73, 104, 84, 64, 111, 89, 96, 76, 103, 80,
      93, 70, 108, 85, 78, 99, 67, 105, 87, 74, 118, 82, 95, 72, 101, 86, 61, 107, 83, 97]

na = [84, 99, 68, 89, 106, 76, 93, 62, 103, 86, 74, 112, 71, 91, 85, 105, 65, 97, 79, 116,
      86, 69, 101, 82, 91, 60, 108, 84, 76, 97, 89, 110, 68, 86, 82, 103, 73, 93, 64, 106,
      91, 79, 113, 71, 89, 99, 67, 105, 84, 76, 109, 86, 93, 61, 101, 82, 71, 107, 89, 79,
      97, 84, 68, 119, 76, 91, 86, 103, 65, 99, 82, 73, 111, 84, 93, 63, 105, 89, 79, 97,
      71, 106, 86, 82, 101, 67, 112, 79, 91, 84, 59, 103, 89, 73, 108, 82, 97, 68, 99, 86,
      84, 65, 105, 76, 93, 86, 115, 71, 89, 79, 101, 63, 106, 82, 91, 73, 110, 84, 97, 68,
      89, 103, 79, 86, 62, 99, 82, 109, 71, 91, 84, 105, 67, 93, 76, 113, 86, 79, 101, 65,
      82, 91, 107, 73, 89, 68, 103, 84, 97, 61, 106, 79, 86, 111, 76, 93, 82, 99, 67, 89,
      101, 71, 84, 109, 79, 91, 63, 105, 86, 73, 97, 82, 117, 68, 89, 84, 103, 76, 93, 62,
      86, 106, 79, 91, 71, 99, 84, 67, 110, 82, 89, 76, 105, 65, 97, 86, 79, 108, 73, 93,
      84, 59, 101, 89, 82, 112, 71, 91, 79, 99, 68, 106, 86, 76, 93, 63, 103, 84, 114, 82,
      91, 73, 105, 67, 86, 97, 79, 109, 71, 89, 84, 101, 65, 93, 82, 107, 76, 91, 68, 99,
      79, 102, 70, 94, 86, 111, 73, 90, 83, 64, 105, 87, 96, 75, 108, 81, 92, 67, 115, 84,
      76, 99, 89, 62, 104, 82, 97, 72, 110, 86, 78, 93, 68, 106, 85, 91, 74, 118, 80, 95,
      88, 65, 101, 83, 77, 107, 71, 96, 89, 60, 103, 84, 93, 76, 112, 80, 98, 69, 105, 87,
      73, 100, 85, 66, 109, 82, 94, 78, 104, 70, 116, 86, 91, 75, 99, 63, 107, 88, 81, 102,
      72, 95, 84, 110, 67, 97, 86, 77, 106, 80, 92, 61, 103, 89, 74, 113, 83, 96, 70, 100,
      85, 79, 108, 68, 94, 87, 72, 104, 82, 98, 76, 120, 81, 90, 65, 105, 86, 93, 73, 101,
      88, 62, 109, 84, 96, 77, 103, 70, 114, 85, 91, 79, 99, 67, 106, 83, 95, 74, 102, 87,
      71, 111, 80, 93, 86, 64, 105, 82, 97, 76, 108, 89, 73, 100, 84, 117, 69, 94, 81, 103,
      78, 96, 87, 66, 107, 83, 92, 75, 110, 85, 70, 101, 88, 79, 104, 63, 98, 84, 93, 72,
      112, 86, 77, 99, 68, 106, 82, 95, 74, 103, 89, 60, 108, 81, 97, 76, 115, 85, 90, 71,
      102, 84, 65, 105, 87, 94, 78, 109, 73, 96, 83, 100, 69, 113, 86, 80, 97, 74, 106, 88,
      67, 101, 82, 93, 76, 110, 85, 71, 104, 89, 98, 63, 107, 84, 79, 100, 72, 95, 86, 112]

nb = [56, 69, 44, 61, 74, 50, 63, 39, 71, 58, 49, 80, 47, 62, 57, 73, 42, 66, 52, 83,
      58, 45, 70, 55, 63, 35, 76, 57, 50, 65, 60, 79, 45, 58, 55, 71, 48, 63, 41, 74,
      62, 52, 81, 47, 60, 68, 43, 73, 57, 49, 77, 58, 63, 38, 70, 55, 46, 76, 61, 52,
      65, 57, 45, 85, 50, 62, 58, 71, 41, 67, 55, 48, 79, 57, 63, 40, 73, 60, 52, 65,
      47, 74, 58, 55, 70, 43, 80, 52, 62, 57, 35, 71, 61, 48, 76, 55, 65, 45, 67, 58,
      57, 42, 73, 50, 63, 58, 82, 47, 60, 52, 70, 40, 74, 55, 62, 48, 78, 57, 65, 45,
      60, 71, 52, 58, 39, 68, 55, 77, 47, 62, 57, 73, 43, 63, 50, 81, 58, 52, 70, 42,
      55, 62, 75, 48, 60, 45, 71, 57, 65, 37, 74, 52, 58, 79, 50, 63, 55, 67, 43, 60,
      70, 47, 57, 77, 52, 62, 41, 73, 58, 48, 65, 55, 84, 45, 60, 57, 71, 50, 63, 38,
      58, 74, 52, 62, 47, 67, 57, 43, 78, 55, 60, 50, 73, 42, 65, 58, 52, 76, 48, 63,
      57, 35, 70, 60, 55, 80, 47, 62, 52, 67, 45, 74, 58, 50, 63, 40, 71, 57, 82, 55,
      62, 48, 73, 43, 58, 68, 52, 77, 47, 60, 57, 70, 42, 63, 55, 75, 50, 62, 45, 67,
      63, 48, 74, 55, 67, 42, 78, 60, 51, 70, 45, 82, 57, 65, 39, 73, 54, 68, 47, 77,
      59, 50, 72, 36, 75, 56, 62, 46, 80, 58, 53, 69, 43, 76, 61, 49, 85, 55, 64, 41,
      71, 58, 47, 79, 52, 66, 44, 74, 60, 38, 70, 57, 63, 48, 81, 54, 67, 45, 73, 59,
      50, 77, 42, 68, 56, 62, 37, 75, 58, 52, 71, 46, 83, 55, 64, 49, 76, 60, 40, 69,
      57, 47, 79, 53, 66, 43, 72, 59, 51, 74, 35, 78, 56, 63, 48, 70, 61, 45, 80, 54,
      67, 50, 73, 41, 76, 58, 52, 69, 46, 84, 55, 64, 39, 72, 60, 49, 77, 53, 65, 44,
      71, 57, 48, 75, 42, 68, 59, 51, 80, 55, 62, 37, 74, 58, 47, 70, 56, 66, 43, 78,
      54, 61, 50, 73, 45, 82, 57, 64, 40, 71, 59, 52, 76, 48, 67, 55, 44, 79, 60, 53,
      69, 38, 75, 56, 63, 47, 72, 58, 50, 81, 54, 65, 42, 74, 60, 49, 70, 46, 77, 57,
      51, 68, 55, 41, 79, 59, 64, 48, 73, 53, 86, 56, 62, 45, 71, 58, 50, 76, 43, 67,
      60, 47, 72, 54, 66, 39, 78, 57, 52, 70, 46, 75, 61, 49, 83, 55, 63, 44, 69, 58,
      53, 74, 41, 68, 59, 50, 77, 56, 64, 47, 71, 36, 80, 57, 62, 48, 73, 55, 66, 51]

series = [b0, b1, n0, n1, n2, n3, n4, n5, n6, n7, n8, n9, na, nb]

# ---------------- layout ----------------
FONT = "Liberation Sans"
NP = len(names)
FRAME_W, FRAME_H = 543, 676
px_per_unit = FRAME_H / NP
x_per_px = (t_end - t_start) / FRAME_W

p = figure(frame_width=FRAME_W, frame_height=FRAME_H,
           x_range=Range1d(t_start, t_end), y_range=Range1d(0, NP),
           min_border_left=67, min_border_right=69, min_border_top=86, min_border_bottom=86,
           output_backend="svg", toolbar_location=None, tools="")
p.background_fill_color = "white"
p.border_fill_color = "white"
p.outline_line_color = "black"
p.outline_line_width = 1
p.xgrid.visible = False
p.ygrid.visible = False

p.title.text = title_text
p.title.align = "left"
p.title.text_font = FONT
p.title.text_font_size = "17.5px"
p.title.text_font_style = "normal"
p.title.text_color = "black"
p.title.standoff = 16

# y ticks of every panel on one shared left axis
ymaj, ymin, overrides = [], [], {}
for k, (nm, R) in enumerate(zip(names, ymax)):
    base = NP - 1 - k
    for v in major_ticks[R]:
        pos = base + v / R
        ymaj.append(pos)
        overrides[pos] = str(v)
    for v in range(0, R, minor_step[R]):
        if v not in major_ticks[R]:
            ymin.append(base + v / R)

yt = FixedTicker(ticks=ymaj, minor_ticks=ymin)
ax = p.yaxis[0]
ax.ticker = yt
ax.major_label_overrides = overrides
ax.major_tick_in = 6
ax.major_tick_out = 0
ax.minor_tick_in = 3
ax.minor_tick_out = 0
ax.major_label_standoff = 15
ax.major_label_text_font = FONT
ax.major_label_text_font_size = "17px"
ax.major_label_text_color = "black"
ax.axis_line_color = "black"

# panel names on the right
centers = [NP - 1 - k + 0.55 for k in range(NP)]
ry = LinearAxis(ticker=FixedTicker(ticks=centers, minor_ticks=[]),
                major_label_overrides={c: nm for c, nm in zip(centers, names)},
                major_tick_in=0, major_tick_out=0, minor_tick_in=0, minor_tick_out=0,
                axis_line_color=None, major_label_standoff=10,
                major_label_text_font=FONT, major_label_text_font_size="12px",
                major_label_text_color="black")
p.add_layout(ry, "right")

xt = FixedTicker(ticks=x_major, minor_ticks=x_minor)
bx = p.xaxis[0]
bx.ticker = xt
bx.major_tick_in = 8
bx.major_tick_out = 0
bx.minor_tick_in = 4
bx.minor_tick_out = 0
bx.major_label_standoff = 7
bx.major_label_text_font = FONT
bx.major_label_text_font_size = "15px"
bx.major_label_text_color = "black"
bx.axis_label = xlabel_text
bx.axis_label_text_font = FONT
bx.axis_label_text_font_size = "19px"
bx.axis_label_text_font_style = "normal"
bx.axis_label_text_color = "black"
bx.axis_label_standoff = 17

p.add_layout(Title(text=date_text, align="right", offset=-67, text_font=FONT,
                   text_font_size="11px", text_font_style="normal", text_color="black",
                   standoff=14), "below")

# panel separators, x ticks on every panel bottom / frame top, y ticks on right edge
sx0, sy0, sx1, sy1 = [], [], [], []
for b in range(1, NP):
    p.add_layout(Span(location=b, dimension="width", line_color="black", line_width=1))
for b in range(1, NP + 1):
    sign = -1 if b == NP else 1
    for xv in x_major:
        sx0.append(xv); sx1.append(xv); sy0.append(b); sy1.append(b + sign * 8 / px_per_unit)
    for xv in x_minor:
        sx0.append(xv); sx1.append(xv); sy0.append(b); sy1.append(b + sign * 4 / px_per_unit)
for yv in ymaj:
    sx0.append(t_end); sx1.append(t_end - 6 * x_per_px); sy0.append(yv); sy1.append(yv)
for yv in ymin:
    sx0.append(t_end); sx1.append(t_end - 3 * x_per_px); sy0.append(yv); sy1.append(yv)
p.segment(x0=sx0, y0=sy0, x1=sx1, y1=sy1, line_color="black", line_width=1)

# data: binned light curves, one per detector
for k, (nm, R, vals) in enumerate(zip(names, ymax, series)):
    base = NP - 1 - k
    p.extra_y_ranges[nm] = Range1d(start=-base * R, end=(NP - base) * R)
    n = len(vals)
    t = t_start + (np.arange(n) + 0.5) * (t_end - t_start) / n
    p.line(t, vals, y_range_name=nm, line_color="black", line_width=1)

open("out.html", "w").write(file_html(p, INLINE))
